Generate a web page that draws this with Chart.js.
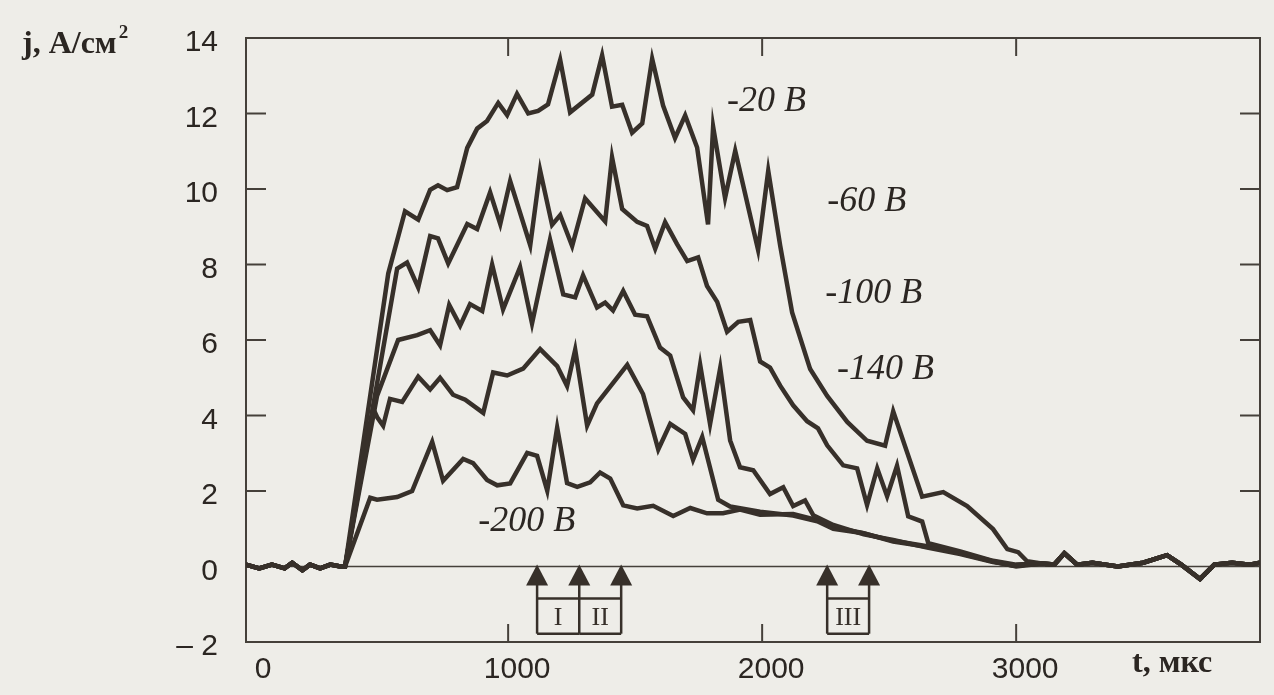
<!DOCTYPE html>
<html>
<head>
<meta charset="utf-8">
<script src="https://cdn.jsdelivr.net/npm/chart.js@4"></script>
<style>
  html, body { margin: 0; padding: 0; background: #eeede8; }
  #wrap { width: 1274px; height: 695px; }
</style>
</head>
<body>
<div id="wrap"><canvas id="chart" width="1274" height="695"></canvas></div>
<script>
// axis setup (t in мкс, j in A/см²)
const tMin = -32, tMax = 3960;
const xTicks = [0, 1000, 2000, 3000];
const yTicks = [-2, 0, 2, 4, 6, 8, 10, 12, 14];

// flat part before the pulse, shared by all traces
const tHead = [-32, 20, 70, 120, 150, 190, 220, 260, 300, 340];
const jHead = [0.05, -0.05, 0.05, -0.05, 0.1, -0.1, 0.05, -0.05, 0.05, 0];

// after-pulse tail, shared by all traces
const tTail = [3100, 3150, 3190, 3240, 3300, 3400, 3500, 3594, 3650, 3724, 3780, 3850, 3920, 3960];
const jTail = [0.08, 0.05, 0.35, 0.05, 0.1, 0.0, 0.1, 0.3, 0.05, -0.33, 0.05, 0.1, 0.05, 0.1];

// -20 В
const t20 = [358, 528, 594, 646, 693, 724, 760, 799, 839, 878, 917, 961, 996, 1035, 1079, 1118, 1157, 1205, 1244, 1331, 1370, 1409, 1449, 1488, 1528, 1567, 1610, 1657, 1697, 1744, 1787, 1807, 1854, 1894, 1984, 2024, 2071, 2118, 2189, 2256, 2335, 2413, 2484, 2516, 2630, 2713, 2807, 2909, 2965, 3008, 3043];
const j20 = [0, 7.76, 9.41, 9.19, 9.98, 10.1, 9.97, 10.05, 11.09, 11.6, 11.8, 12.28, 11.96, 12.52, 12.0, 12.07, 12.24, 13.42, 12.03, 12.5, 13.54, 12.18, 12.23, 11.49, 11.74, 13.45, 12.21, 11.35, 11.95, 11.1, 9.06, 11.65, 9.76, 11.01, 8.39, 10.48, 8.5, 6.73, 5.23, 4.52, 3.83, 3.33, 3.2, 4.11, 1.85, 1.97, 1.6, 0.99, 0.46, 0.38, 0.14];

// -60 В
const t60 = [358, 563, 602, 646, 693, 724, 764, 839, 878, 929, 969, 1008, 1087, 1126, 1173, 1205, 1252, 1303, 1382, 1409, 1449, 1508, 1547, 1579, 1618, 1665, 1705, 1748, 1783, 1823, 1862, 1906, 1953, 1992, 2031, 2071, 2122, 2177, 2220, 2256, 2319, 2374, 2413, 2453, 2492, 2531, 2575, 2630, 2654, 2780, 2909, 3000];
const j60 = [0, 7.89, 8.05, 7.39, 8.75, 8.69, 8.03, 9.07, 8.94, 9.91, 9.07, 10.21, 8.51, 10.49, 9.05, 9.31, 8.49, 9.75, 9.14, 10.84, 9.47, 9.13, 9.02, 8.42, 9.12, 8.54, 8.09, 8.19, 7.43, 7.01, 6.22, 6.48, 6.53, 5.43, 5.27, 4.79, 4.27, 3.85, 3.66, 3.21, 2.68, 2.6, 1.63, 2.6, 1.86, 2.67, 1.33, 1.19, 0.62, 0.4, 0.15, 0.05];

// -100 В
const t100 = [358, 484, 567, 642, 693, 732, 768, 811, 850, 898, 937, 980, 1047, 1094, 1165, 1217, 1264, 1295, 1350, 1382, 1413, 1453, 1500, 1547, 1598, 1638, 1689, 1728, 1756, 1795, 1835, 1874, 1913, 1965, 2031, 2083, 2122, 2169, 2201, 2280, 2400, 2516, 2650, 2780, 2909, 3000];
const j100 = [0, 4.52, 6.0, 6.13, 6.26, 5.86, 6.93, 6.38, 6.95, 6.77, 8.0, 6.81, 7.93, 6.44, 8.66, 7.21, 7.13, 7.71, 6.86, 6.99, 6.78, 7.3, 6.67, 6.63, 5.8, 5.59, 4.48, 4.14, 5.34, 3.77, 5.26, 3.34, 2.63, 2.55, 1.92, 2.1, 1.6, 1.75, 1.36, 1.1, 0.85, 0.7, 0.5, 0.33, 0.12, 0.03];

// -140 В
const t140 = [358, 469, 484, 508, 535, 583, 646, 693, 732, 783, 831, 902, 941, 996, 1059, 1126, 1193, 1232, 1264, 1311, 1350, 1469, 1531, 1591, 1638, 1697, 1728, 1764, 1827, 1874, 1992, 2122, 2217, 2280, 2400, 2516, 2650, 2780, 2909, 3000];
const j140 = [0, 4.18, 3.96, 3.73, 4.44, 4.36, 5.03, 4.69, 5.0, 4.55, 4.42, 4.07, 5.14, 5.06, 5.24, 5.76, 5.31, 4.78, 5.74, 3.73, 4.32, 5.34, 4.57, 3.1, 3.78, 3.51, 2.83, 3.43, 1.77, 1.59, 1.45, 1.35, 1.2, 1.0, 0.88, 0.66, 0.52, 0.36, 0.14, 0.0];

// -200 В
const t200 = [358, 457, 484, 563, 622, 701, 744, 823, 862, 917, 957, 1008, 1075, 1114, 1154, 1193, 1232, 1272, 1323, 1362, 1402, 1453, 1508, 1571, 1650, 1717, 1783, 1846, 1913, 1992, 2122, 2217, 2280, 2386, 2516, 2650, 2780, 2909, 2988];
const j200 = [0, 1.82, 1.77, 1.84, 2.0, 3.3, 2.27, 2.85, 2.74, 2.29, 2.15, 2.2, 3.01, 2.93, 2.01, 3.68, 2.21, 2.11, 2.23, 2.49, 2.33, 1.62, 1.54, 1.61, 1.34, 1.55, 1.41, 1.41, 1.51, 1.37, 1.39, 1.23, 1.04, 0.9, 0.68, 0.54, 0.35, 0.13, 0.02];

// curve captions (text start point in data units, baseline)
const curveNames = ['-20 В', '-60 В', '-100 В', '-140 В', '-200 В'];
const nameT = [1862, 2256, 2248, 2295, 882];
const nameJ = [12.07, 9.42, 6.98, 4.96, 0.93];

// time marks I, II, III under the zero line
const markT = [1114, 1280, 1445, 2256, 2421];
const boxFrom = [1114, 1280, 2256];
const boxTo = [1280, 1445, 2421];
const boxText = ['I', 'II', 'III'];
const boxTopJ = -0.85, boxBottomJ = -1.78;

const ink = '#37302a';
const textInk = '#2b2622';
const paper = '#eeede8';

function pts(t, j) {
  const all_t = tHead.concat(t, tTail);
  const all_j = jHead.concat(j, jTail);
  return all_t.map((v, i) => ({ x: v, y: all_j[i] }));
}

const series = [
  { t: t20, j: j20 }, { t: t60, j: j60 }, { t: t100, j: j100 },
  { t: t140, j: j140 }, { t: t200, j: j200 }
];

const paperPlugin = {
  id: 'paper',
  beforeDraw(chart) {
    const c = chart.ctx;
    c.save();
    c.fillStyle = paper;
    c.fillRect(0, 0, chart.width, chart.height);
    c.restore();
  }
};

function seg(c, x1, y1, x2, y2) {
  c.beginPath(); c.moveTo(x1, y1); c.lineTo(x2, y2); c.stroke();
}

// frame, zero line, inward ticks
const framePlugin = {
  id: 'frame',
  beforeDatasetsDraw(chart) {
    const { ctx: c, chartArea: a, scales: { x, y } } = chart;
    c.save();
    c.strokeStyle = '#45403a';
    c.lineWidth = 2;
    c.strokeRect(a.left, a.top, a.right - a.left, a.bottom - a.top);
    c.lineWidth = 1.5;
    const y0 = y.getPixelForValue(0);
    seg(c, a.left, y0, a.right, y0);
    c.lineWidth = 2;
    yTicks.forEach(v => {
      if (v <= y.min || v >= y.max || v === 0) return;
      const py = y.getPixelForValue(v);
      seg(c, a.left, py, a.left + 20, py);
      seg(c, a.right - 20, py, a.right, py);
    });
    xTicks.forEach(v => {
      if (v <= 0) return;
      const px = x.getPixelForValue(v);
      seg(c, px, a.bottom, px, a.bottom - 18);
      seg(c, px, a.top, px, a.top + 18);
    });
    c.restore();
  }
};

// captions, axis titles, I/II/III marks
const notesPlugin = {
  id: 'notes',
  afterDatasetsDraw(chart) {
    const { ctx: c, scales: { x, y } } = chart;
    c.save();
    c.fillStyle = textInk;
    c.textBaseline = 'alphabetic';

    c.font = 'italic 36px "Liberation Serif", "Times New Roman", serif';
    curveNames.forEach((s, i) => {
      c.fillText(s, x.getPixelForValue(nameT[i]), y.getPixelForValue(nameJ[i]));
    });

    c.font = 'bold 32px "Liberation Serif", "Times New Roman", serif';
    c.fillText('j, A/см', 22, 53);
    const w = c.measureText('j, A/см').width;
    c.font = 'bold 19px "Liberation Serif", "Times New Roman", serif';
    c.fillText('2', 22 + w + 2, 38);
    c.font = 'bold 32px "Liberation Serif", "Times New Roman", serif';
    c.fillText('t, мкс', 1132, 672);

    // arrows
    const y0 = y.getPixelForValue(0);
    const yb = y.getPixelForValue(boxBottomJ);
    const yt = y.getPixelForValue(boxTopJ);
    c.strokeStyle = ink;
    c.fillStyle = ink;
    c.lineWidth = 2.5;
    markT.forEach(t => {
      const px = x.getPixelForValue(t);
      c.beginPath();
      c.moveTo(px, y0 - 2);
      c.lineTo(px - 11, y0 + 19);
      c.lineTo(px + 11, y0 + 19);
      c.closePath();
      c.fill();
      seg(c, px, y0 + 18, px, yb);
    });
    c.font = '26px "Liberation Serif", "Times New Roman", serif';
    c.textAlign = 'center';
    c.textBaseline = 'middle';
    boxFrom.forEach((t, i) => {
      const p1 = x.getPixelForValue(t), p2 = x.getPixelForValue(boxTo[i]);
      seg(c, p1, yt, p2, yt);
      seg(c, p1, yb, p2, yb);
      c.fillText(boxText[i], (p1 + p2) / 2, (yt + yb) / 2 + 2);
    });
    c.restore();
  }
};

const tickFont = { family: '"Liberation Sans", Arial, sans-serif', size: 30 };

new Chart(document.getElementById('chart'), {
  type: 'line',
  data: {
    datasets: series.map((s, i) => ({
      label: curveNames[i],
      data: pts(s.t, s.j),
      borderColor: ink,
      borderWidth: 4.5,
      pointRadius: 0,
      tension: 0,
      fill: false
    }))
  },
  options: {
    responsive: false,
    animation: false,
    layout: { padding: { top: 31, right: 14, left: 0, bottom: 0 } },
    plugins: { legend: { display: false }, tooltip: { enabled: false } },
    scales: {
      x: {
        type: 'linear',
        min: tMin,
        max: tMax,
        grid: { display: false },
        border: { display: false },
        afterBuildTicks: s => { s.ticks = xTicks.map(v => ({ value: v })); },
        afterFit: s => { s.height = 53; },
        ticks: {
          padding: 2,
          labelOffset: 9,
          maxRotation: 0,
          color: textInk,
          font: tickFont,
          callback: v => String(v)
        }
      },
      y: {
        min: -2,
        max: 14,
        grid: { display: false },
        border: { display: false },
        afterBuildTicks: s => { s.ticks = yTicks.map(v => ({ value: v })); },
        afterFit: s => { s.width = 246; },
        ticks: {
          padding: 20,
          labelOffset: 5,
          color: textInk,
          font: tickFont,
          callback: v => v < 0 ? '– ' + (-v) : String(v)
        }
      }
    }
  },
  plugins: [paperPlugin, framePlugin, notesPlugin]
});
</script>
</body>
</html>
